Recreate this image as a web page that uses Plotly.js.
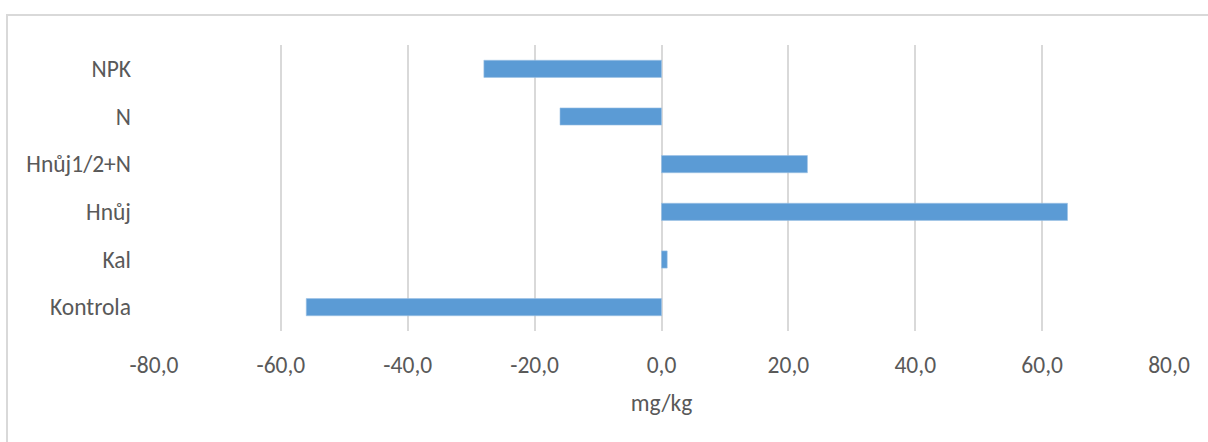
<!DOCTYPE html>
<html>
<head>
<meta charset="utf-8">
<script src="https://cdn.plot.ly/plotly-3.0.1.min.js"></script>
<style>
  html, body { margin: 0; padding: 0; background: #ffffff; }
  #wrap { position: relative; width: 1208px; height: 442px; overflow: hidden; }
  #chart { position: absolute; left: 0; top: 0; width: 1208px; height: 442px; }
  #frame {
    position: absolute; left: 6px; top: 14px; width: 1220px; height: 460px;
    border-top: 2px solid #d9d9d9; border-left: 2px solid #d9d9d9;
    pointer-events: none;
  }
</style>
</head>
<body>
<div id="wrap">
  <div id="chart"></div>
  <div id="frame"></div>
</div>
<script>
// Change in content per treatment (mg/kg), listed bottom to top
const categories = ['Kontrola', 'Kal', 'Hnůj', 'Hnůj1/2+N', 'N', 'NPK'];
const values = [-56, 0.9, 64, 23, -16, -28];
const xTickValues = [-80, -60, -40, -20, 0, 20, 40, 60, 80];
const xTickLabels = ['-80,0', '-60,0', '-40,0', '-20,0', '0,0', '20,0', '40,0', '60,0', '80,0'];

const fontFamily = 'Carlito, Calibri, Lato, "Open Sans", sans-serif';
const labelSize = 23.5;

const trace = {
  type: 'bar',
  orientation: 'h',
  y: categories,
  x: values,
  marker: { color: '#5b9bd5', line: { color: '#9dc3e6', width: 0.6 } },
  hoverinfo: 'x+y'
};

const layout = {
  width: 1208,
  height: 442,
  margin: { l: 154, r: 39, t: 45, b: 111 },
  paper_bgcolor: '#ffffff',
  plot_bgcolor: '#ffffff',
  bargap: 0.64,
  showlegend: false,
  font: { family: fontFamily, size: labelSize, color: '#595959' },
  xaxis: {
    range: [-80, 80],
    tickvals: xTickValues,
    ticktext: xTickLabels,
    showgrid: true,
    gridcolor: '#d9d9d9',
    gridwidth: 2,
    zeroline: true,
    zerolinecolor: '#d9d9d9',
    zerolinewidth: 2,
    showline: false,
    ticks: '',
    ticklabelstandoff: 17,
    tickfont: { family: fontFamily, size: labelSize, color: '#595959' },
    title: { text: 'mg/kg', standoff: 17, font: { family: fontFamily, size: labelSize, color: '#595959' } },
    fixedrange: true
  },
  yaxis: {
    type: 'category',
    categoryorder: 'array',
    categoryarray: categories,
    showgrid: false,
    zeroline: false,
    showline: false,
    ticks: '',
    ticklabelstandoff: 22,
    tickfont: { family: fontFamily, size: labelSize, color: '#595959' },
    fixedrange: true
  }
};

Plotly.newPlot('chart', [trace], layout, { displayModeBar: false, staticPlot: true });
</script>
</body>
</html>
